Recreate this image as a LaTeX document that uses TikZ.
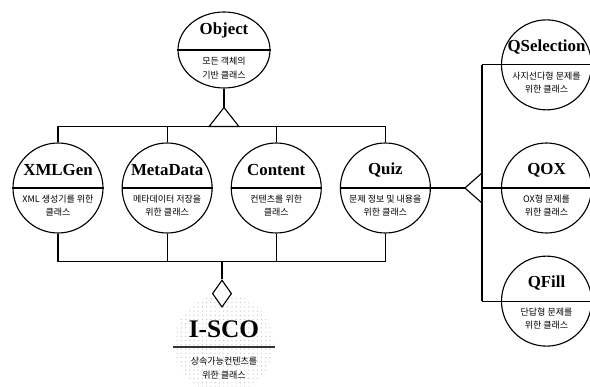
\documentclass[tikz,border=0pt]{standalone}
\usepackage{fontspec}
\setmainfont{Liberation Serif}
\newfontfamily\kofont{Noto Sans CJK KR}
\usetikzlibrary{positioning,shapes.geometric,patterns}

\tikzset{
    cls/.style={circle, draw, line width=0.8pt, minimum size=2.25cm, inner sep=0pt},
    clsTitle/.style={font=\fontsize{12}{13}\selectfont\bfseries, inner sep=0pt},
    clsText/.style={font=\kofont\fontsize{6.4}{9.5}\selectfont, align=center, inner sep=0pt},
}

\begin{document}
\begin{tikzpicture}[line width=0.8pt]
    \useasboundingbox (0,0) rectangle (14.75,-9.675);
    % classes
    \node[cls, ellipse, minimum width=2.3cm, minimum height=1.9cm] (object) at (5.6,-1.25) {};
    \node[cls] (xmlGen) at (1.45,-4.7) {};
    \node[cls, right=0.45cm of xmlGen] (metaData) {};
    \node[cls, right=0.45cm of metaData] (content) {};
    \node[cls, right=0.45cm of content] (quiz) {};
    \node[cls, right=1.75cm of quiz] (qox) {};
    \node[cls, above=0.8cm of qox] (qSelection) {};
    \node[cls, below=0.55cm of qox] (qFill) {};
    \node[circle, pattern=dots, pattern color=gray!40, minimum size=2.5cm] (isco) at (5.6,-8.6) {};
    \node[diamond, draw, fill=white, minimum width=0.48cm, minimum height=0.68cm, inner sep=0pt] (aggr) at (5.55,-7.34) {};

    % texts
    \node[clsTitle] (objectTitle) at ([yshift=0.5cm]object.center) {Object};
    \node[clsText] (objectText) at ([yshift=-0.45cm]object.center) {모든 객체의\\기반 클래스};
    \node[clsTitle] (xmlGenTitle) at ([yshift=0.45cm]xmlGen.center) {XMLGen};
    \node[clsText] (xmlGenText) at ([yshift=-0.44cm]xmlGen.center) {XML 생성기를 위한\\클래스};
    \node[clsTitle] (metaDataTitle) at ([yshift=0.45cm]metaData.center) {MetaData};
    \node[clsText] (metaDataText) at ([yshift=-0.44cm]metaData.center) {메타데이터 저장을\\위한 클래스};
    \node[clsTitle] (contentTitle) at ([yshift=0.45cm]content.center) {Content};
    \node[clsText] (contentText) at ([yshift=-0.44cm]content.center) {컨텐츠를 위한\\클래스};
    \node[clsTitle] (quizTitle) at ([yshift=0.45cm]quiz.center) {Quiz};
    \node[clsText] (quizText) at ([yshift=-0.44cm]quiz.center) {문제 정보 및 내용을\\위한 클래스};
    \node[clsTitle] (qSelectionTitle) at ([yshift=0.45cm]qSelection.center) {QSelection};
    \node[clsText] (qSelectionText) at ([yshift=-0.44cm]qSelection.center) {사지선다형 문제를\\위한 클래스};
    \node[clsTitle] (qoxTitle) at ([yshift=0.45cm]qox.center) {QOX};
    \node[clsText] (qoxText) at ([yshift=-0.44cm]qox.center) {OX형 문제를\\위한 클래스};
    \node[clsTitle] (qFillTitle) at ([yshift=0.45cm]qFill.center) {QFill};
    \node[clsText] (qFillText) at ([yshift=-0.44cm]qFill.center) {단답형 문제를\\위한 클래스};
    \node[clsTitle, font=\fontsize{18}{19}\selectfont\bfseries] (iscoTitle) at ([yshift=0.38cm]isco.center) {I-SCO};
    \node[clsText] (iscoText) at ([yshift=-0.6cm]isco.center) {상속가능컨텐츠를\\위한 클래스};

    % dividers
    \draw (object.west) -- (object.east);
    \foreach \c in {xmlGen, metaData, content, quiz, qSelection, qFill}
        \draw (\c.west) -- (\c.east);
    \draw[line width=1pt, black!80] ([yshift=-0.07cm]isco.west) -- ([yshift=-0.07cm]isco.east);

    % inheritance from Object
    \coordinate[below=0.475cm of object] (inhApex);
    \coordinate[below=0.475cm of inhApex] (inhBase);
    \draw (object) -- (inhApex);
    \draw (inhApex) -- ([xshift=-0.375cm]inhBase) -- ([xshift=0.375cm]inhBase) -- cycle;
    \draw (xmlGen) |- (inhBase) -| (quiz);
    \draw (metaData) -- (metaData |- inhBase);
    \draw (content) -- (content |- inhBase);

    % aggregation into I-SCO
    \coordinate[above=0.45cm of aggr.north] (aggrTop);
    \draw (xmlGen) |- (aggrTop) -| (quiz);
    \draw (metaData) -- (metaData |- aggrTop);
    \draw (content) -- (content |- aggrTop);
    \draw (aggrTop) -- (aggr);

    % inheritance from Quiz
    \coordinate[right=0.85cm of quiz.east] (genApex);
    \coordinate[right=0.425cm of genApex] (genBase);
    \draw (quiz) -- (genApex);
    \draw (genApex) -- ([yshift=0.375cm]genBase) -- ([yshift=-0.375cm]genBase) -- cycle;
    \draw (qSelection.center -| genBase) -- (qFill.center -| genBase);
    \draw (qSelection.center -| genBase) -- (qSelection.east);
    \draw (genBase) -- (qox.east);
    \draw (qFill.center -| genBase) -- (qFill.east);
\end{tikzpicture}
\end{document}
